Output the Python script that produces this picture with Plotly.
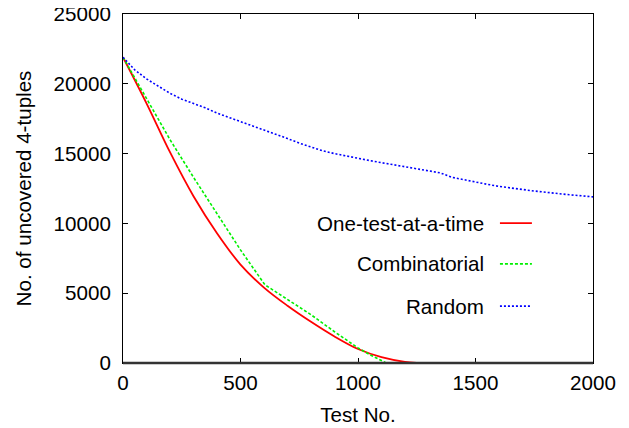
import plotly.graph_objects as go

# test number (x) and uncovered 4-tuples (y)
one_x = [0, 100, 200, 300, 400, 500, 600, 700, 800, 900, 1000, 1100, 1200, 1250]
one_y = [21900, 18600, 15100, 11950, 9300, 7050, 5400, 4100, 2950, 1900, 1000, 420, 80, 0]

comb_x = [0, 100, 200, 300, 400, 500, 604, 700, 800, 900, 1000, 1050, 1100, 1120]
comb_y = [21900, 18900, 16000, 13300, 10700, 8100, 5600, 4540, 3460, 2240, 1080, 600, 150, 0]

rand_x = [0, 50, 100, 150, 200, 250, 300, 350, 400, 450, 500, 550, 600, 650, 700,
          750, 800, 850, 900, 950, 1000, 1050, 1100, 1150, 1200, 1250, 1300, 1350,
          1400, 1450, 1500, 1550, 1600, 1650, 1700, 1750, 1800, 1850, 1900, 1950, 2000]
rand_y = [21900, 21000, 20350, 19850, 19320, 18900, 18580, 18280, 17900, 17600, 17320,
          17000, 16700, 16420, 16080, 15750, 15450, 15200, 15000, 14820, 14680, 14500,
          14350, 14200, 14050, 13900, 13750, 13620, 13300, 13120, 12950, 12800, 12650,
          12520, 12430, 12320, 12220, 12130, 12050, 11980, 11900]

x_ticks = [0, 500, 1000, 1500, 2000]
y_ticks = [0, 5000, 10000, 15000, 20000, 25000]

series = [
    ('One-test-at-a-time', one_x, one_y, '#ff0000', 'solid', 'spline', 1.8),
    ('Combinatorial', comb_x, comb_y, '#00f000', '3px,2px', 'linear', 1.6),
    ('Random', rand_x, rand_y, '#0000ff', '2px,2px', 'linear', 1.6),
]

FONT = 'Liberation Sans, Arial, Helvetica, sans-serif'
FS = 20.6

fig = go.Figure()
for name, xs, ys, color, dash, shape, lw in series:
    fig.add_trace(go.Scatter(x=xs, y=ys, mode='lines', name=name,
                             line=dict(color=color, width=lw, dash=dash, shape=shape)))

# gnuplot style key: right aligned text, sample line to the right
key_y = [0.401, 0.284, 0.163]
for (name, xs, ys, color, dash, shape, lw), ky in zip(series, key_y):
    fig.add_annotation(xref='paper', yref='paper', x=0.772, y=ky, text=name,
                       showarrow=False, xanchor='right', yanchor='middle',
                       font=dict(family=FONT, size=FS, color='black'))
    fig.add_shape(type='line', xref='paper', yref='paper', x0=0.802, x1=0.870,
                  y0=ky, y1=ky, line=dict(color=color, width=lw, dash=dash))

# heavier bottom border
fig.add_shape(type='line', xref='paper', yref='paper', x0=0, x1=1, y0=0, y1=0,
              line=dict(color='#333333', width=2.5))

axis_common = dict(showline=True, linecolor='black', linewidth=1, mirror='ticks',
                   ticks='inside', ticklen=5, tickcolor='black', showgrid=False,
                   zeroline=False, automargin=False, ticklabeloverflow='allow',
                   tickfont=dict(family=FONT, size=FS, color='black'))

fig.update_xaxes(range=[0, 2000], tickvals=x_ticks, ticktext=[str(v) for v in x_ticks],
                 title=dict(text='Test No.', standoff=14,
                            font=dict(family=FONT, size=FS, color='black')),
                 ticklabelstandoff=1, **axis_common)
fig.update_yaxes(range=[0, 25000], tickvals=y_ticks, ticktext=[str(v) for v in y_ticks],
                 title=dict(text='No. of uncovered 4-tuples', standoff=16,
                            font=dict(family=FONT, size=FS, color='black')),
                 ticklabelstandoff=7, **axis_common)

# the page body adds an 8px margin, so the figure is 8px smaller than the window
fig.update_layout(width=621, height=420, margin=dict(l=115, r=36, t=6, b=65),
                  plot_bgcolor='white', paper_bgcolor='white', showlegend=False,
                  font=dict(family=FONT, size=FS, color='black'))

fig.write_html('out.html')
